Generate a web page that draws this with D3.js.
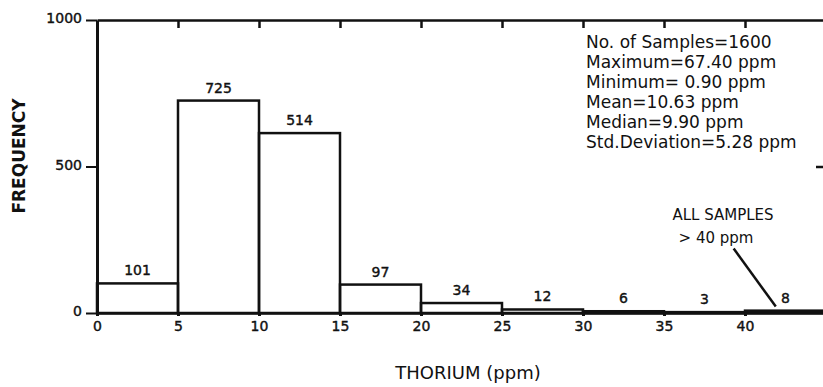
<!DOCTYPE html>
<html lang="en">
<head>
  <meta charset="UTF-8">
  <title>Thorium histogram</title>
  <script src="https://d3js.org/d3.v7.min.js"></script>
  <style>
    body { margin: 0; background: #fff; }
    svg { display: block; font-family: "DejaVu Sans", sans-serif; }
    .axis path, .axis line { stroke: #111; }
    .axis text { font-family: "DejaVu Sans", sans-serif; font-size: 14px; fill: #111; stroke: #111; stroke-width: 0.4px; }
    .bar { fill: none; stroke: #111; stroke-width: 2.5px; }
    .bar-label { font-size: 14px; fill: #111; text-anchor: middle; stroke: #111; stroke-width: 0.4px; }
    .stats text { font-size: 17px; fill: #111; }
  </style>
</head>
<body>
  <svg id="chart" width="823" height="387"></svg>
  <script>
    // Bins of 5 ppm, last bin is "all samples > 40 ppm"
    const binStarts = [0, 5, 10, 15, 20, 25, 30, 35, 40];
    const binWidth = 5;
    const counts = [101, 725, 614, 97, 34, 12, 6, 3, 8];
    // labels as printed on the figure
    const countLabels = ["101", "725", "514", "97", "34", "12", "6", "3", "8"];
    const xTicks = [0, 5, 10, 15, 20, 25, 30, 35, 40];
    const yTicks = [0, 500, 1000];
    const statsLines = [
      "No. of Samples=1600",
      "Maximum=67.40 ppm",
      "Minimum= 0.90 ppm",
      "Mean=10.63 ppm",
      "Median=9.90 ppm",
      "Std.Deviation=5.28 ppm"
    ];
    // leader line for the "> 40 ppm" note, in data units [ppm, frequency]
    const noteLine = [[39.3, 220], [41.9, 22]];

    const svg = d3.select("#chart");
    const x = d3.scaleLinear().domain([0, 45]).range([97, 826]);
    const y = d3.scaleLinear().domain([0, 1000]).range([313, 20]);

    // bars
    svg.append("g")
      .selectAll("rect")
      .data(counts)
      .join("rect")
        .attr("class", "bar")
        .attr("x", (d, i) => x(binStarts[i]))
        .attr("width", (d, i) => x(binStarts[i] + binWidth) - x(binStarts[i]))
        .attr("y", d => y(d))
        .attr("height", d => y(0) - y(d));

    svg.append("g")
      .selectAll("text")
      .data(counts)
      .join("text")
        .attr("class", "bar-label")
        .attr("x", (d, i) => x(binStarts[i] + binWidth / 2))
        .attr("y", d => y(d) - 8)
        .text((d, i) => countLabels[i]);

    // axes
    const leftAxis = svg.append("g").attr("class", "axis")
      .attr("transform", `translate(${x(0)},0)`)
      .call(d3.axisLeft(y).tickValues(yTicks).tickFormat(d3.format("d"))
        .tickSize(11).tickPadding(4).tickSizeOuter(0));
    leftAxis.select(".domain").attr("stroke-width", 3);
    leftAxis.selectAll(".tick line").attr("stroke-width", 2);
    leftAxis.selectAll(".tick text").attr("dy", "0.2em");

    const bottomAxis = svg.append("g").attr("class", "axis")
      .attr("transform", `translate(0,${y(0)})`)
      .call(d3.axisBottom(x).tickValues(xTicks).tickSize(3).tickPadding(5).tickSizeOuter(0));
    bottomAxis.select(".domain").attr("stroke-width", 2.5);
    bottomAxis.selectAll(".tick line").attr("stroke-width", 3);

    const topAxis = svg.append("g").attr("class", "axis")
      .attr("transform", `translate(0,${y(1000)})`)
      .call(d3.axisTop(x).tickValues(xTicks.slice(1)).tickSize(-8).tickFormat("").tickSizeOuter(0));
    topAxis.select(".domain").attr("stroke-width", 2.5);
    topAxis.selectAll(".tick line").attr("stroke-width", 2.5);

    const rightAxis = svg.append("g").attr("class", "axis")
      .attr("transform", `translate(${x(45)},0)`)
      .call(d3.axisRight(y).tickValues([500]).tickSize(-10).tickFormat("").tickSizeOuter(0));
    rightAxis.select(".domain").attr("stroke-width", 2.5);
    rightAxis.selectAll(".tick line").attr("stroke-width", 2.5);

    // axis titles
    svg.append("text")
      .attr("transform", "translate(25,156) rotate(-90)")
      .attr("text-anchor", "middle")
      .attr("font-size", 17)
      .attr("font-weight", "bold")
      .attr("fill", "#111")
      .text("FREQUENCY");

    svg.append("text")
      .attr("x", 468).attr("y", 379)
      .attr("text-anchor", "middle")
      .attr("font-size", 18)
      .attr("fill", "#111")
      .text("THORIUM (ppm)");

    // stats block
    svg.append("g").attr("class", "stats")
      .selectAll("text")
      .data(statsLines)
      .join("text")
        .attr("x", 586)
        .attr("y", (d, i) => 48 + i * 20)
        .text(d => d);

    // note for the last bin
    svg.append("text")
      .attr("x", 723).attr("y", 220)
      .attr("text-anchor", "middle").attr("font-size", 15).attr("fill", "#111")
      .text("ALL SAMPLES");
    svg.append("text")
      .attr("x", 716).attr("y", 243)
      .attr("text-anchor", "middle").attr("font-size", 15).attr("fill", "#111")
      .text("> 40 ppm");
    svg.append("line")
      .attr("x1", x(noteLine[0][0])).attr("y1", y(noteLine[0][1]))
      .attr("x2", x(noteLine[1][0])).attr("y2", y(noteLine[1][1]))
      .attr("stroke", "#111").attr("stroke-width", 2.5);
  </script>
</body>
</html>
